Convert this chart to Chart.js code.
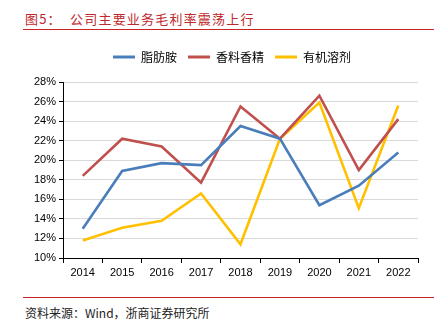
<!DOCTYPE html>
<html>
<head>
<meta charset="utf-8">
<script src="https://cdn.jsdelivr.net/npm/chart.js@4/dist/chart.umd.min.js"></script>
<style>
  html, body { margin: 0; padding: 0; background: #fff; }
  body { width: 446px; height: 334px; position: relative; overflow: hidden; }
  #title {
    position: absolute; left: 25px; top: 9px;
    font-family: "Noto Sans CJK SC", sans-serif; font-size: 13px;
    color: #c0282d; letter-spacing: 1.2px; white-space: nowrap;
  }
  .rule { position: absolute; left: 23px; width: 411px; height: 1px; background: #c8252b; }
  #source {
    position: absolute; left: 25px; top: 304px;
    font-family: "Noto Sans CJK SC", sans-serif; font-size: 12px;
    color: #222; white-space: nowrap;
  }
  #wrap { position: absolute; left: 0; top: 40px; width: 446px; height: 250px; }
</style>
</head>
<body>
<div id="title">图5：&nbsp;&nbsp;公司主要业务毛利率震荡上行</div>
<div class="rule" style="top:29px"></div>
<div id="wrap"><canvas id="marginChart"></canvas></div>
<div class="rule" style="top:297px"></div>
<div id="source">资料来源：Wind，浙商证券研究所</div>
<script>
  // gross margin by business line, %
  var years = ['2014', '2015', '2016', '2017', '2018', '2019', '2020', '2021', '2022'];
  var fattyAmine = [13.0, 18.9, 19.7, 19.5, 23.5, 22.2, 15.4, 17.4, 20.8];
  var flavors = [18.4, 22.2, 21.4, 17.7, 25.5, 22.2, 26.6, 19.0, 24.2];
  var solvents = [11.8, 13.1, 13.8, 16.6, 11.4, 22.2, 25.9, 15.1, 25.6];
  var seriesNames = ['脂肪胺', '香料香精', '有机溶剂'];

  var colors = ['#4a7ebb', '#c0504d', '#ffc000'];

  function makeSet(i, values) {
    return {
      label: seriesNames[i],
      data: values,
      borderColor: colors[i],
      backgroundColor: colors[i],
      borderWidth: 2.6,
      pointRadius: 0,
      pointHoverRadius: 0,
      fill: false,
      tension: 0
    };
  }

  // fixed legend height, and nudge it right to sit where the original has it
  var legendTweak = {
    id: 'legendTweak',
    beforeInit: function (chart) {
      var orig = chart.legend.fit;
      chart.legend.fit = function () {
        orig.bind(chart.legend)();
        this.height = 42;
      };
    },
    afterLayout: function (chart) {
      chart.legend.left += 23;
      chart.legend.right += 23;
    }
  };

  new Chart(document.getElementById('marginChart'), {
    type: 'line',
    data: {
      labels: years,
      datasets: [makeSet(0, fattyAmine), makeSet(1, flavors), makeSet(2, solvents)]
    },
    plugins: [legendTweak],
    options: {
      responsive: true,
      maintainAspectRatio: false,
      animation: false,
      layout: { padding: { left: 0, right: 28, top: 0, bottom: 0 } },
      plugins: {
        tooltip: { enabled: false },
        legend: {
          position: 'top',
          labels: {
            boxWidth: 22,
            boxHeight: 3,
            padding: 11,
            color: '#000',
            font: { family: '"Noto Sans CJK SC", sans-serif', size: 12 },
            generateLabels: function (chart) {
              return Chart.defaults.plugins.legend.labels.generateLabels(chart).map(function (l) {
                l.lineWidth = 0;
                return l;
              });
            }
          }
        }
      },
      scales: {
        x: {
          offset: true,
          grid: { display: true, offset: true, drawOnChartArea: false, tickLength: 5, tickColor: '#000' },
          border: { display: true, color: '#000', width: 1 },
          ticks: { color: '#000', padding: 3, maxRotation: 0, font: { family: '"Liberation Sans", Arial, sans-serif', size: 11 } },
          afterFit: function (s) { s.height = 32; }
        },
        y: {
          min: 10,
          max: 28,
          ticks: {
            stepSize: 2,
            color: '#000',
            padding: 3,
            font: { family: '"Liberation Sans", Arial, sans-serif', size: 11 },
            callback: function (v) { return v + '%'; }
          },
          grid: { color: '#d9d9d9', lineWidth: 1, tickLength: 4, tickColor: '#000' },
          border: { display: true, color: '#000', width: 1 },
          afterFit: function (s) { s.width = 63; }
        }
      }
    }
  });
</script>
</body>
</html>
